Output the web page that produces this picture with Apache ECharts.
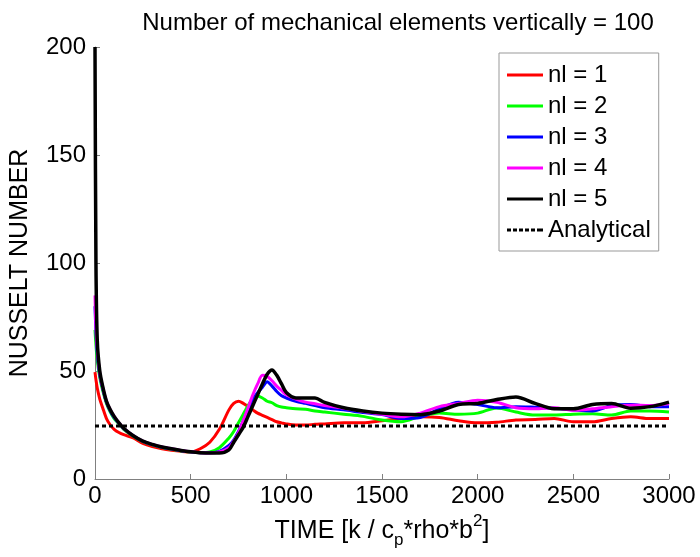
<!DOCTYPE html>
<html>
<head>
<meta charset="utf-8">
<script src="https://cdn.jsdelivr.net/npm/echarts@6/dist/echarts.min.js"></script>
<style>html,body{margin:0;padding:0;background:#fff}#c{width:700px;height:557px}</style>
</head>
<body>
<div id="c"></div>
<script>
const times = [0, 5, 12, 25, 40, 60, 80, 100, 125, 150, 200, 250, 300, 350, 400, 450, 500, 550, 600, 650, 700, 725, 750, 775, 800, 825, 850, 875, 900, 925, 950, 975, 1000, 1050, 1100, 1150, 1200, 1300, 1400, 1500, 1600, 1700, 1800, 1900, 2000, 2100, 2200, 2300, 2400, 2500, 2600, 2700, 2800, 2900, 3000];
const nl1 = [49.5, 46, 42, 37, 33, 28, 25, 23, 21.5, 20.5, 19, 16.5, 15, 14, 13.3, 12.8, 12.5, 14, 17, 23, 32, 35, 36, 35, 33.5, 32, 30.5, 29.5, 28.5, 27.5, 26.5, 26, 25.5, 25, 25, 25.3, 25.5, 26, 26, 27, 28, 28.8, 28.5, 27, 26, 26.3, 27.3, 27.5, 28, 26.5, 26.5, 28, 28.8, 28, 28];
const nl2 = [69, 62, 55, 47, 41, 35, 31, 28, 25.5, 23, 19.8, 17.3, 15.8, 14.6, 13.8, 13, 12.5, 12.2, 12.5, 14.5, 19, 22, 26, 30, 34, 37, 38.4, 37.5, 36, 35.3, 34, 33.3, 33, 32.5, 32.3, 31.5, 31, 30, 29, 27.3, 26.5, 29, 30.5, 30, 30.5, 32.9, 31, 29.6, 29.6, 30, 30.2, 29.6, 31.5, 31.5, 31];
const nl3 = [80, 68, 58, 48, 42, 35.5, 31.5, 28.5, 25.8, 23.3, 20, 17.4, 15.9, 14.7, 13.9, 13.1, 12.6, 12.2, 12.1, 12.8, 15.5, 18, 22, 27, 32, 37, 40, 42.5, 45, 43, 40.5, 38.5, 37.5, 36, 35, 34, 33, 32, 30.8, 29.8, 28, 28.5, 32.5, 35.5, 34.5, 33, 33.5, 33.2, 32.8, 32, 31.5, 34, 34.5, 33.5, 33.5];
const nl4 = [85, 70, 60, 49, 42.5, 36, 32, 29, 26, 23.4, 20, 17.5, 16, 14.8, 14, 13.2, 12.6, 12.2, 12, 12.5, 14.5, 17.5, 21.5, 27, 33, 39, 44, 48, 47.5, 45.5, 43, 41, 39, 37, 35.6, 34.8, 34, 32.8, 31.2, 30, 28.8, 30.5, 33.5, 35, 36.5, 35.5, 33, 32.5, 33, 31.8, 32.5, 33.5, 34.2, 34, 35];
const nl5 = [200, 100, 64, 50, 43, 36, 32, 29, 26, 23.5, 20, 17.5, 16, 14.8, 14, 13.2, 12.6, 12.2, 12, 12, 13.5, 17, 20.5, 24, 29, 34, 39, 44, 48.5, 50.5, 48, 44, 40, 37.5, 37.5, 37.5, 35.5, 33, 31.5, 30.5, 30, 29.8, 31.5, 34.5, 35, 36.8, 38, 35, 32.5, 32.5, 34.5, 35, 32.8, 33.5, 35.6];
const analyticalTimes = [0, 3000];
const analytical = [24.5, 24.5];
const seriesNames = ['nl = 1', 'nl = 2', 'nl = 3', 'nl = 4', 'nl = 5', 'Analytical'];
const seriesColors = ['#ff0000', '#00ff00', '#0000ff', '#ff00ff', '#000000', '#000000'];

const FONT = '"Liberation Sans", Arial, Helvetica, sans-serif';
const FS = 24;
const pair = (ts, vs) => ts.map((t, i) => [t, vs[i]]);
const curves = [nl1, nl2, nl3, nl4, nl5];

const solidIcon = 'path://M0,0h36v3h-36z';
const dashIcon = 'path://M0,0h4v3h-4z M6,0h4v3h-4z M12,0h4v3h-4z M18,0h4v3h-4z M24,0h4v3h-4z M30,0h4v3h-4z M34,0h2v3h-2z';

const series = curves.map((vals, i) => ({
  name: seriesNames[i],
  type: 'line',
  data: pair(times, vals),
  showSymbol: false,
  symbol: 'none',
  smooth: 0.3,
  lineStyle: { color: seriesColors[i], width: i === 4 ? 3.5 : 3 },
  itemStyle: { color: seriesColors[i] },
  z: 2 + i
}));
series.push({
  name: seriesNames[5],
  type: 'line',
  data: pair(analyticalTimes, analytical),
  showSymbol: false,
  symbol: 'none',
  lineStyle: { color: '#000', width: 3, type: [4, 3] },
  itemStyle: { color: '#000' },
  z: 10
});

const chart = echarts.init(document.getElementById('c'), null, { renderer: 'canvas' });
chart.setOption({
  animation: false,
  backgroundColor: '#fff',
  textStyle: { fontFamily: FONT },
  title: {
    text: 'Number of mechanical elements vertically = 100',
    left: 393, top: 6, textAlign: 'center',
    textStyle: { fontFamily: FONT, fontSize: FS, fontWeight: 'normal', color: '#000' }
  },
  grid: { left: 94, right: 31, top: 47, bottom: 78, containLabel: false },
  legend: {
    orient: 'vertical',
    left: 499, top: 53,
    backgroundColor: '#fff',
    borderColor: '#999', borderWidth: 1,
    padding: [10, 8, 9, 8],
    itemWidth: 36, itemHeight: 3, itemGap: 7,
    textStyle: { fontFamily: FONT, fontSize: FS, color: '#000', lineHeight: 24, padding: [0, 0, 0, 0] },
    data: seriesNames.map((n, i) => ({ name: n, icon: i === 5 ? dashIcon : solidIcon }))
  },
  xAxis: {
    type: 'value', min: 0, max: 3000, interval: 500,
    name: '{a|TIME [k / c}{sub|p}{a|*rho*b}{sup|2}{a|]}',
    nameLocation: 'middle', nameGap: 29,
    nameTextStyle: {
      rich: {
        a: { fontFamily: FONT, fontSize: 25, color: '#000', lineHeight: 36 },
        sub: { fontFamily: FONT, fontSize: 17, color: '#000', verticalAlign: 'bottom', lineHeight: 36 },
        sup: { fontFamily: FONT, fontSize: 17, color: '#000', verticalAlign: 'top', lineHeight: 36 }
      }
    },
    axisLine: { show: true, lineStyle: { color: '#808080', width: 1 } },
    axisTick: { show: true, inside: true, length: 5, lineStyle: { color: '#808080' } },
    axisLabel: { fontFamily: FONT, fontSize: FS, color: '#000', margin: 5, formatter: v => String(v) },
    splitLine: { show: false }
  },
  yAxis: {
    type: 'value', min: 0, max: 200, interval: 50,
    name: 'NUSSELT NUMBER', nameLocation: 'middle', nameGap: 62, nameRotate: 90,
    nameTextStyle: { fontFamily: FONT, fontSize: 25, color: '#000' },
    axisLine: { show: true, lineStyle: { color: '#808080', width: 1 } },
    axisTick: { show: true, inside: true, length: 5, lineStyle: { color: '#808080' } },
    axisLabel: { fontFamily: FONT, fontSize: FS, color: '#000', margin: 9, formatter: v => String(v) },
    splitLine: { show: false }
  },
  series: series
});
</script>
</body>
</html>
